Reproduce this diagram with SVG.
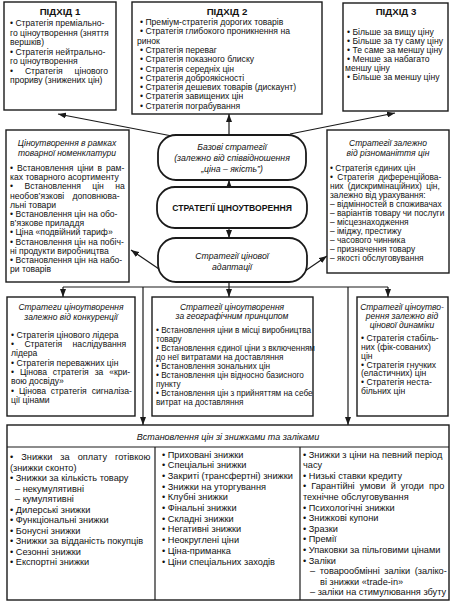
<svg xmlns="http://www.w3.org/2000/svg" width="453" height="604" viewBox="0 0 453 604">
<style>
text{font-family:"Liberation Sans",Arial,sans-serif;fill:#111;font-size:8.6px}
.box{fill:#fff;stroke:#1a1a1a;stroke-width:1.4}
.rbox{fill:#fff;stroke:#1a1a1a;stroke-width:1.8}
.ttl{font-weight:bold;font-size:9.7px;text-anchor:middle}
.it{font-style:italic;text-anchor:middle;font-size:8.5px}
.ctr{font-style:italic;text-anchor:middle;font-size:8.7px}
.big{font-weight:bold;text-anchor:middle;font-size:8.6px}
.sm{font-size:8.2px}
.bt{font-size:9.2px}
.con{fill:none;stroke:#1a1a1a;stroke-width:1.2}
</style>
<defs>
<marker id="ah" markerUnits="userSpaceOnUse" markerWidth="8" markerHeight="6" refX="8" refY="3" orient="auto">
<path d="M0,0 L8,3 L0,6 z" fill="#1a1a1a"/>
</marker>
</defs>
<rect width="453" height="604" fill="#fff"/>

<g id="connectors">
<line class="con" x1="229" y1="135" x2="229" y2="114" marker-end="url(#ah)"/>
<line class="con" x1="229" y1="187" x2="229" y2="180" marker-end="url(#ah)"/>
<line class="con" x1="229" y1="228" x2="229" y2="238" marker-end="url(#ah)"/>
<line class="con" x1="172" y1="136" x2="58" y2="114" marker-end="url(#ah)"/>
<line class="con" x1="290" y1="134" x2="395" y2="113" marker-end="url(#ah)"/>
<line class="con" x1="159" y1="269" x2="131" y2="250" marker-end="url(#ah)"/>
<line class="con" x1="305" y1="271" x2="327" y2="256" marker-end="url(#ah)"/>
<polyline class="con" points="229,282 229,287"/>
<line class="con" x1="63" y1="287" x2="388" y2="287"/>
<line class="con" x1="63" y1="287" x2="63" y2="297" marker-end="url(#ah)"/>
<line class="con" x1="229" y1="287" x2="229" y2="297" marker-end="url(#ah)"/>
<line class="con" x1="388" y1="287" x2="388" y2="297" marker-end="url(#ah)"/>
<line class="con" x1="143" y1="287" x2="143" y2="425" marker-end="url(#ah)"/>
<line class="con" x1="348" y1="287" x2="348" y2="425" marker-end="url(#ah)"/>
</g>

<g id="approach1">
<rect class="box" x="4" y="2" width="112" height="108"/>
<text class="ttl" x="60" y="15">ПІДХІД 1</text>
<text x="10" y="26">• Стратегія преміально-</text>
<text x="10" y="35.5">го ціноутворення (зняття</text>
<text x="10" y="45">вершків)</text>
<text x="10" y="54.5">• Стратегія нейтрально-</text>
<text x="10" y="64">го ціноутворення</text>
<text x="10" y="73.5" word-spacing="9.5">• Стратегія цінового</text>
<text x="10" y="83">прориву (знижених цін)</text>
</g>

<g id="approach2">
<rect class="box" x="132" y="2" width="190" height="112"/>
<text class="ttl" x="227" y="15">ПІДХІД 2</text>
<text x="140" y="25">• Преміум-стратегія дорогих товарів</text>
<text x="140" y="34.3">• Стратегія глибокого проникнення на</text>
<text x="137" y="43.6">ринок</text>
<text x="140" y="52.9">• Стратегія переваг</text>
<text x="140" y="62.2">• Стратегія показного блиску</text>
<text x="140" y="71.5">• Стратегія середніх цін</text>
<text x="140" y="80.8">• Стратегія доброякісності</text>
<text x="140" y="90.1">• Стратегія дешевих товарів (дискаунт)</text>
<text x="140" y="99.4">• Стратегія завищених цін</text>
<text x="140" y="108.7">• Стратегія пограбування</text>
</g>

<g id="approach3">
<rect class="box" x="343" y="3" width="105" height="108"/>
<text class="ttl" x="396" y="15">ПІДХІД 3</text>
<text x="347" y="35">• Більше за вищу ціну</text>
<text x="347" y="44">• Більше за ту саму ціну</text>
<text x="347" y="53">• Те саме за меншу ціну</text>
<text x="347" y="62">• Менше за набагато</text>
<text x="345" y="71">меншу ціну</text>
<text x="347" y="80">• Більше за меншу ціну</text>
</g>

<g id="basic">
<rect class="rbox" x="158" y="135" width="148" height="45" rx="18"/>
<text class="ctr" x="232" y="150">Базові стратегії</text>
<text class="ctr" x="232" y="161">(залежно від співвідношення</text>
<text class="ctr" x="232" y="172">„ціна – якість”)</text>
</g>

<g id="central">
<rect class="rbox" x="157" y="187" width="150" height="41" rx="18"/>
<text class="big" x="232" y="211">СТРАТЕГІЇ ЦІНОУТВОРЕННЯ</text>
</g>

<g id="adaptation">
<rect class="rbox" x="158" y="238" width="149" height="44" rx="18"/>
<text class="ctr" x="232" y="259">Стратегії цінової</text>
<text class="ctr" x="232" y="270">адаптації</text>
</g>

<g id="nomenclature">
<rect class="box" x="6" y="130" width="123" height="152"/>
<text class="it" x="67" y="146">Ціноутворення в рамках</text>
<text class="it" x="67" y="156">товарної номенклатури</text>
<text x="10" y="171" word-spacing="1.5">• Встановлення ціни в рам-</text>
<text x="10" y="180.2">ках товарного асортименту</text>
<text x="10" y="189.4" word-spacing="9">• Встановлення цін на</text>
<text x="10" y="198.6" word-spacing="6">необов’язкові доповнюва-</text>
<text x="10" y="207.8">льні товари</text>
<text x="10" y="217">• Встановлення цін на обо-</text>
<text x="10" y="226.2">в’язкове приладдя</text>
<text x="10" y="235.4">• Ціна «подвійний тариф»</text>
<text x="10" y="244.6">• Встановлення цін на побіч-</text>
<text x="10" y="253.8">ні продукти виробництва</text>
<text x="10" y="263">• Встановлення цін на набо-</text>
<text x="10" y="272.2">ри товарів</text>
</g>

<g id="variety">
<rect class="box" x="327" y="130" width="122" height="143"/>
<text class="it" x="388" y="146">Стратегії залежно</text>
<text class="it" x="388" y="156">від різноманіття цін</text>
<text x="330" y="171" style="font-size:8.4px">• Стратегія єдиних цін</text>
<text x="330" y="180" style="font-size:8.4px" word-spacing="2">• Стратегія диференційова-</text>
<text x="330" y="189" style="font-size:8.4px" word-spacing="2">них (дискримінаційних) цін,</text>
<text x="330" y="198" style="font-size:8.4px">залежно від урахування:</text>
<text x="330" y="207" style="font-size:8.4px">– відмінностей в споживачах</text>
<text x="330" y="216" style="font-size:8.4px">– варіантів товару чи послуги</text>
<text x="330" y="225" style="font-size:8.4px">– місцезнаходження</text>
<text x="330" y="234" style="font-size:8.4px">– іміджу, престижу</text>
<text x="330" y="243" style="font-size:8.4px">– часового чинника</text>
<text x="330" y="252" style="font-size:8.4px">– призначення товару</text>
<text x="330" y="261" style="font-size:8.4px">– якості обслуговування</text>
</g>

<g id="competition">
<rect class="box" x="7" y="297" width="128" height="119"/>
<text class="it" x="71" y="310">Стратеги ціноутворення</text>
<text class="it" x="71" y="320">залежно від конкуренції</text>
<text x="11" y="338">• Стратегія цінового лідера</text>
<text x="11" y="347" word-spacing="8">• Стратегія наслідування</text>
<text x="11" y="356">лідера</text>
<text x="11" y="365.5">• Стратегія переважних цін</text>
<text x="11" y="374.5" word-spacing="3.5">• Цінова стратегія за «кри-</text>
<text x="11" y="384">вою досвіду»</text>
<text x="11" y="393.5" word-spacing="2.5">• Цінова стратегія сигналіза-</text>
<text x="11" y="402.5">ції цінами</text>
</g>

<g id="geographic">
<rect class="box" x="152" y="297" width="161" height="119"/>
<text class="it" x="232" y="310">Стратегії ціноутворення</text>
<text class="it" x="232" y="319">за географічним принципом</text>
<text class="sm" x="156" y="333">• Встановлення ціни в місці виробництва</text>
<text class="sm" x="156" y="341.5">товару</text>
<text class="sm" x="156" y="351">• Встановлення єдиної ціни з включенням</text>
<text class="sm" x="156" y="360">до неї витратами на доставляння</text>
<text class="sm" x="156" y="368.5">• Встановлення зональних цін</text>
<text class="sm" x="156" y="378">• Встановлення цін відносно базисного</text>
<text class="sm" x="156" y="386.5">пункту</text>
<text class="sm" x="156" y="396">• Встановлення цін з прийняттям на себе</text>
<text class="sm" x="156" y="405">витрат на доставляння</text>
</g>

<g id="dynamics">
<rect class="box" x="357" y="297" width="91" height="119"/>
<text class="it" x="402" y="310">Стратегії ціноутво-</text>
<text class="it" x="402" y="319">рення залежно від</text>
<text class="it" x="402" y="328">цінової динаміки</text>
<text x="361" y="341">• Стратегія стабіль-</text>
<text x="361" y="350">них (фік-сованих)</text>
<text x="361" y="358.5">цін</text>
<text x="361" y="367.5">• Стратегія гнучких</text>
<text x="361" y="376">(еластичних) цін</text>
<text x="361" y="385">• Стратегія неста-</text>
<text x="361" y="393.5">більних цін</text>
</g>

<g id="discounts">
<rect class="box" x="7" y="425" width="442" height="175"/>
<line class="con" x1="7" y1="447" x2="449" y2="447"/>
<line class="con" x1="155" y1="447" x2="155" y2="600"/>
<line class="con" x1="300" y1="447" x2="300" y2="600"/>
<text class="ctr" x="228" y="440" style="font-size:9px">Встановлення цін зі знижками та заліками</text>
<text class="bt" x="10" y="460" word-spacing="5.5">• Знижки за оплату готівкою</text>
<text class="bt" x="10" y="470.5">(знижки сконто)</text>
<text class="bt" x="10" y="481">• Знижки за кількість товару</text>
<text class="bt" x="15" y="491.5">– некумулятивні</text>
<text class="bt" x="15" y="502">– кумулятивні</text>
<text class="bt" x="10" y="512.5">• Дилерські знижки</text>
<text class="bt" x="10" y="523">• Функціональні знижки</text>
<text class="bt" x="10" y="533.5">• Бонусні знижки</text>
<text class="bt" x="10" y="544">• Знижки за відданість покупців</text>
<text class="bt" x="10" y="554.5">• Сезонні знижки</text>
<text class="bt" x="10" y="565">• Експортні знижки</text>
<text class="bt" x="162" y="457.5">• Приховані знижки</text>
<text class="bt" x="162" y="468.2">• Спеціальні знижки</text>
<text class="bt" x="162" y="478.9">• Закриті (трансфертні) знижки</text>
<text class="bt" x="162" y="489.6">• Знижки на уторгування</text>
<text class="bt" x="162" y="500.3">• Клубні знижки</text>
<text class="bt" x="162" y="511">• Фінальні знижки</text>
<text class="bt" x="162" y="521.7">• Складні знижки</text>
<text class="bt" x="162" y="532.4">• Негативні знижки</text>
<text class="bt" x="162" y="543.1">• Неокруглені ціни</text>
<text class="bt" x="162" y="553.8">• Ціна-приманка</text>
<text class="bt" x="162" y="564.5">• Ціни спеціальних заходів</text>
<text class="bt" x="303" y="457.5">• Знижки з ціни на певний період</text>
<text class="bt" x="303" y="468.1">часу</text>
<text class="bt" x="303" y="478.7">• Низькі ставки кредиту</text>
<text class="bt" x="303" y="489.3" word-spacing="2.5">• Гарантійні умови й угоди про</text>
<text class="bt" x="303" y="499.9">технічне обслуговування</text>
<text class="bt" x="303" y="510.5">• Психологічні знижки</text>
<text class="bt" x="303" y="521.1">• Знижкові купони</text>
<text class="bt" x="303" y="531.7">• Зразки</text>
<text class="bt" x="303" y="542.3">• Премії</text>
<text class="bt" x="303" y="552.9">• Упаковки за пільговими цінами</text>
<text class="bt" x="303" y="563.5">• Заліки</text>
<text class="bt" x="310" y="574.1" word-spacing="2">– товарообмінні заліки (заліко-</text>
<text class="bt" x="320" y="584.7">ві знижки «trade-in»</text>
<text class="bt" x="310" y="595.3">– заліки на стимулювання збуту</text>
</g>
</svg>
